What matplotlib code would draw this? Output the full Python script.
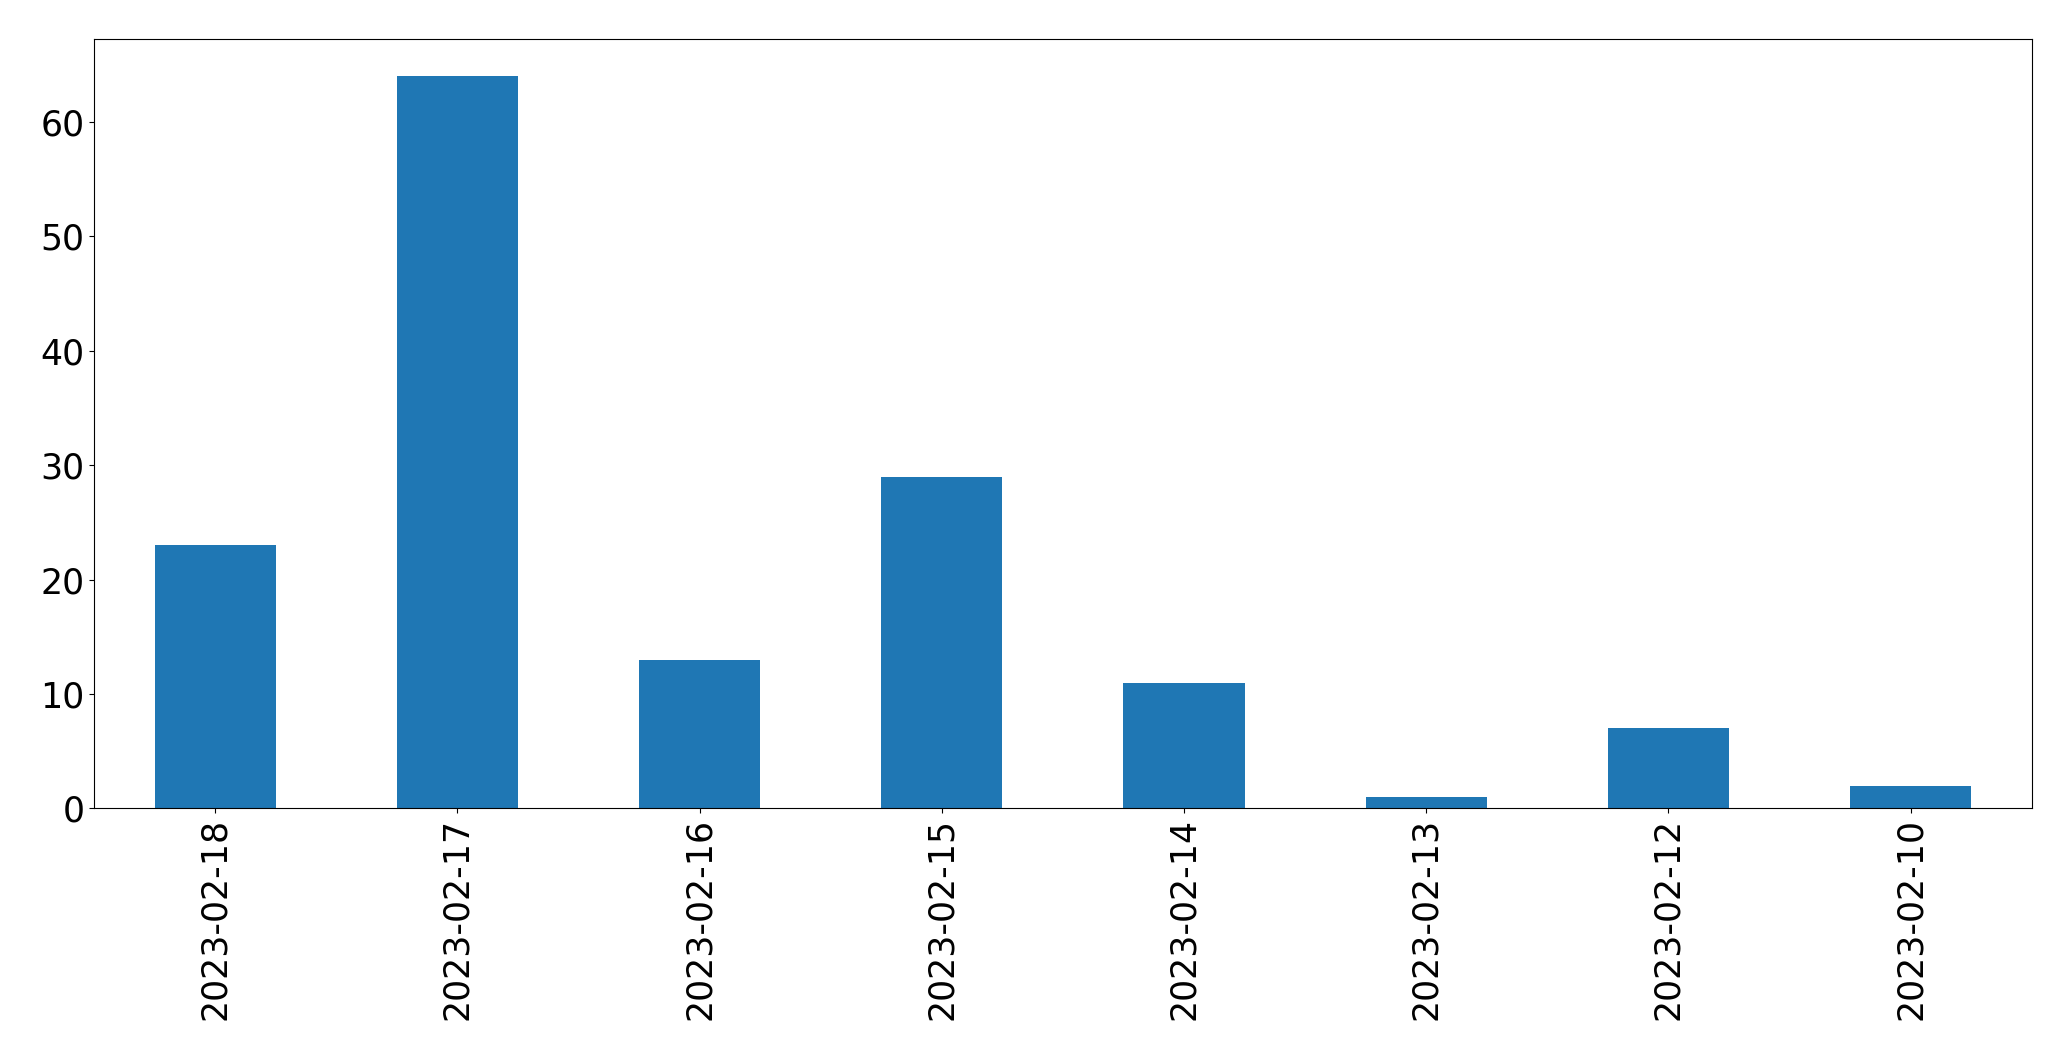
import matplotlib
matplotlib.use('Agg')
import matplotlib.pyplot as plt
import numpy as np

# Counts per day
dates = ['2023-02-18', '2023-02-17', '2023-02-16', '2023-02-15',
         '2023-02-14', '2023-02-13', '2023-02-12', '2023-02-10']
counts = [23, 64, 13, 29, 11, 1, 7, 2]

fig, ax = plt.subplots(figsize=(20.71, 10.61), dpi=100)
x = np.arange(len(dates))
ax.bar(x, counts, width=0.5, color='#1f77b4')
ax.set_xticks(x)
ax.set_xticklabels(dates, rotation=90)
ax.set_xlim(-0.5, len(dates) - 0.5)
ax.tick_params(axis='both', labelsize=25)

plt.subplots_adjust(left=0.0455, right=0.981, top=0.963, bottom=0.238)
plt.savefig('out.png', dpi=100)
